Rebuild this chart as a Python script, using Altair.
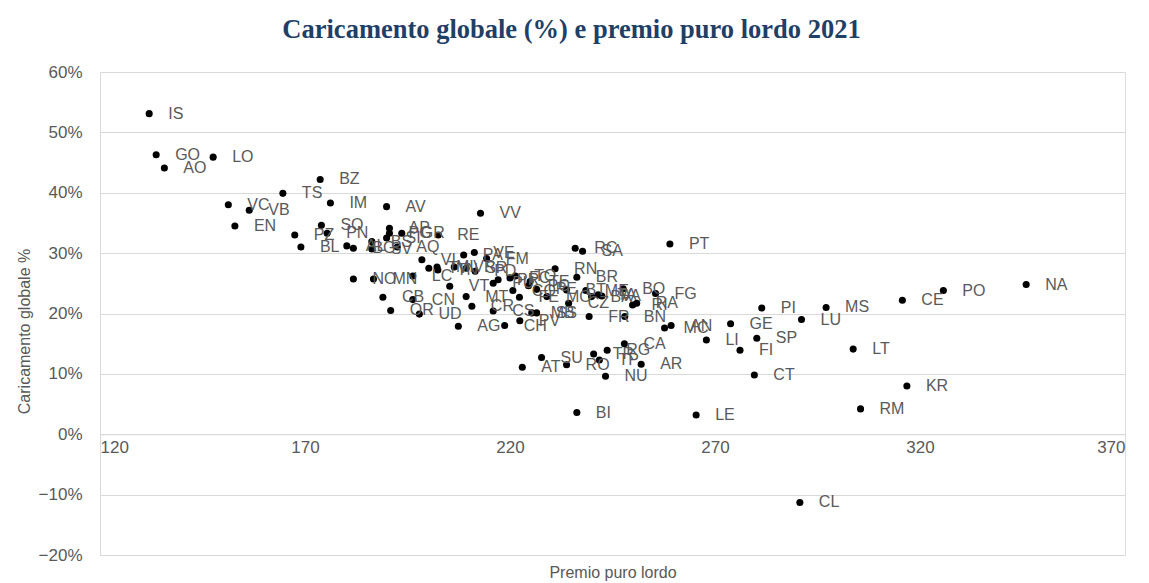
import altair as alt
import pandas as pd

codes = ["IS", "GO", "AO", "LO", "BZ", "TS", "IM", "VC", "VB", "EN",
         "SO", "PZ", "PN", "BL", "AV", "VV", "AL", "BG", "SV", "BS",
         "AP", "PG", "SI", "GR", "RE", "AQ", "VI", "NO", "MN", "LC",
         "CB", "OR", "CN", "UD", "AG", "VT", "MT", "CR", "CS", "CH",
         "TV", "MI", "TN", "VR", "SR", "PD", "PA", "VE", "FM", "PU",
         "PR", "FC", "TO", "PC", "CO", "FE", "PE", "MO", "PV", "MB",
         "SS", "TE", "RN", "BR", "BT", "ME", "CZ", "BA", "TA", "VA",
         "FR", "BO", "RI", "RA", "FG", "BN", "RC", "SA", "PT", "MC",
         "AN", "LI", "GE", "PI", "SP", "FI", "CT", "LU", "MS", "LT",
         "CE", "PO", "NA", "KR", "RM", "CL", "AT", "SU", "RO", "TR",
         "TP", "RG", "CA", "AR", "NU", "BI", "LE"]

premio = [132.0, 133.7, 135.7, 147.6, 173.7, 164.6, 176.2, 151.3, 156.4, 152.9,
          174.0, 167.5, 175.4, 169.0, 189.9, 212.8, 180.2, 181.8, 186.3, 186.3,
          190.6, 190.6, 189.9, 193.6, 202.5, 192.5, 198.5, 181.8, 186.7, 196.3,
          189.0, 190.9, 196.3, 197.9, 207.4, 205.3, 209.3, 210.7, 215.9, 218.7,
          200.2, 202.2, 202.4, 206.4, 209.3, 211.5, 208.7, 211.3, 214.3, 215.9,
          217.1, 220.0, 221.3, 224.5, 220.7, 222.3, 226.5, 229.0, 222.4, 225.3,
          226.5, 224.9, 231.0, 236.3, 233.8, 238.5, 234.3, 239.9, 241.5, 242.4,
          239.3, 247.6, 249.9, 250.9, 255.5, 248.0, 235.9, 237.7, 259.0, 257.7,
          259.3, 267.9, 273.8, 281.4, 280.2, 276.1, 279.6, 291.1, 297.1, 303.7,
          315.7, 325.7, 345.9, 316.8, 305.5, 290.7, 223.0, 227.7, 233.8, 240.4,
          241.8, 243.7, 247.9, 252.0, 243.3, 236.3, 265.4]

caricamento = [53.1, 46.3, 44.1, 45.9, 42.2, 39.9, 38.3, 38.0, 37.1, 34.5,
               34.6, 33.0, 33.3, 31.0, 37.7, 36.6, 31.2, 30.8, 30.7, 31.9,
               34.1, 33.3, 32.5, 33.3, 33.0, 31.0, 28.9, 25.7, 25.7, 26.2,
               22.7, 20.5, 22.3, 19.9, 17.9, 24.5, 22.8, 21.2, 20.4, 18.0,
               27.5, 27.7, 27.2, 27.7, 27.5, 27.0, 29.7, 30.1, 29.1, 25.0,
               25.6, 25.9, 26.2, 24.6, 23.8, 22.7, 24.0, 22.8, 18.8, 20.1,
               20.1, 25.3, 27.4, 26.0, 23.9, 23.8, 21.7, 22.8, 23.1, 22.9,
               19.5, 24.1, 21.4, 21.7, 23.3, 19.5, 30.8, 30.3, 31.5, 17.6,
               18.0, 15.6, 18.3, 20.9, 15.9, 13.9, 9.8, 19.0, 21.0, 14.1,
               22.2, 23.8, 24.8, 8.0, 4.2, -11.3, 11.1, 12.7, 11.5, 13.3,
               12.3, 13.9, 15.0, 11.6, 9.6, 3.6, 3.2]

x_ticks = [120, 170, 220, 270, 320, 370]
y_ticks = [-0.2, -0.1, 0.0, 0.1, 0.2, 0.3, 0.4, 0.5, 0.6]

df = pd.DataFrame({
    "Provincia": codes,
    "Premio": premio,
    "Caricamento": [v / 100 for v in caricamento],
})

FONT = "Liberation Sans"
GRAY = "#595959"
GRID = "#d9d9d9"
W, H = 1025, 483

x_enc = alt.X(
    "Premio:Q",
    scale=alt.Scale(domain=[120, 370], nice=False, zero=False),
    axis=alt.Axis(
        values=x_ticks, title="Premio puro lordo", grid=False, ticks=False, tickSize=0,
        domainColor=GRID, domainWidth=1, labelColor=GRAY, labelFont=FONT, labelFontSize=17,
        labelPadding=5, offset=-(H * 0.2 / 0.8),
        titleFont=FONT, titleFontSize=16, titleColor=GRAY, titleFontWeight="normal",
        titleY=H * 0.2 / 0.8 + 17, titleBaseline="middle",
    ),
)
y_enc = alt.Y(
    "Caricamento:Q",
    scale=alt.Scale(domain=[-0.2, 0.6], nice=False, zero=False),
    axis=alt.Axis(
        values=y_ticks, format=".0%", title="Caricamento globale %",
        grid=True, gridColor=GRID, gridWidth=1, ticks=False, tickSize=0,
        domainColor=GRID, domainWidth=1, labelColor=GRAY, labelFont=FONT, labelFontSize=17,
        labelPadding=18, titleFont=FONT, titleFontSize=16, titleColor=GRAY,
        titleFontWeight="normal", titleX=-76, titleY=259, titleBaseline="middle",
        titleAlign="center", titleAngle=270,
    ),
)

points = alt.Chart(df).mark_circle(size=50, color="black", opacity=1).encode(
    x=x_enc, y=y_enc, tooltip=["Provincia", "Premio", "Caricamento"]
)
labels = alt.Chart(df).mark_text(
    align="left", baseline="middle", dx=19, fontSize=16, font=FONT, color=GRAY
).encode(x=x_enc, y=y_enc, text="Provincia:N")

chart = (
    alt.layer(points, labels)
    .properties(
        width=W,
        height=H,
        autosize=alt.AutoSizeParams(type="none"),
        padding={"left": 92, "top": 64, "right": 8, "bottom": 26},
        title=alt.TitleParams(
            text="Caricamento globale (%) e premio puro lordo 2021",
            font="Liberation Serif", fontSize=26.5, fontWeight="bold", color="#1F3F66",
            anchor="middle", frame="group", dx=-41, offset=7, baseline="middle",
        ),
    )
    .configure_view(stroke=None)
    .configure(background="white")
)

chart.save("out.html", embed_options={"renderer": "svg", "actions": False})
